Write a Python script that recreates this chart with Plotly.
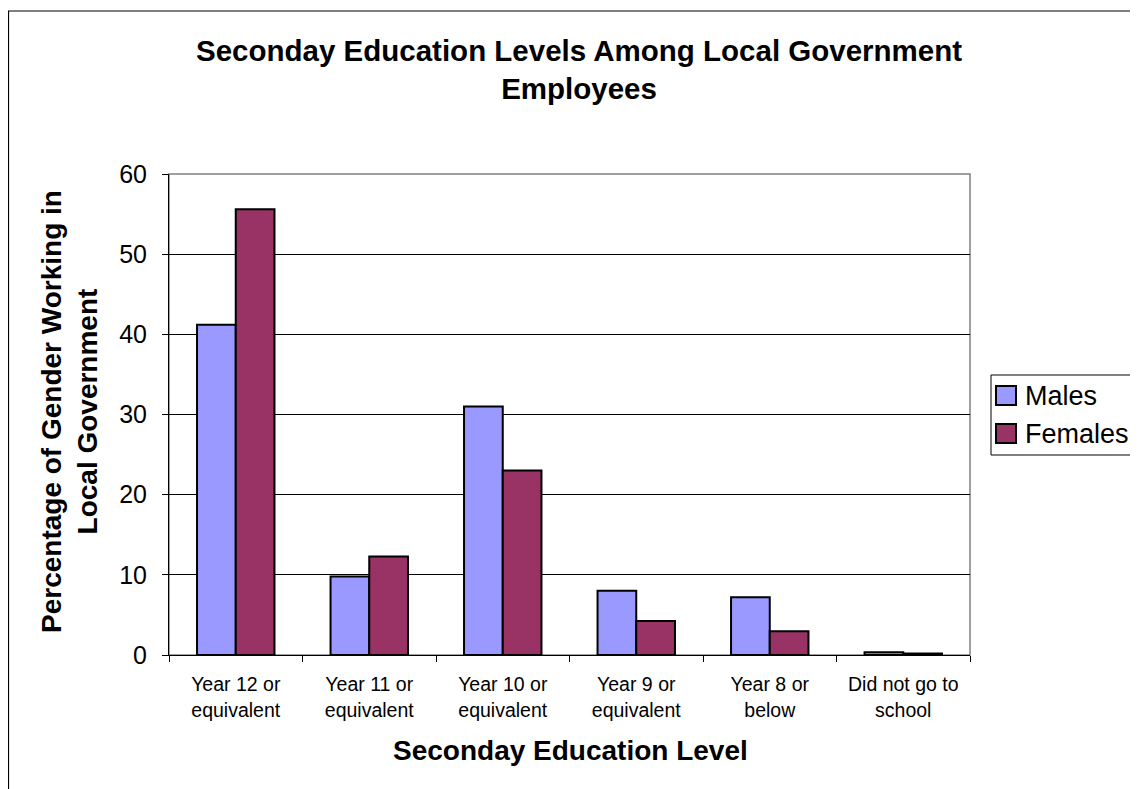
import plotly.graph_objects as go

categories = ["Year 12 or<br>equivalent", "Year 11 or<br>equivalent", "Year 10 or<br>equivalent",
              "Year 9 or<br>equivalent", "Year 8 or<br>below", "Did not go to<br>school"]
males = [41.2, 9.8, 31.0, 8.0, 7.2, 0.34]
females = [55.6, 12.3, 23.0, 4.25, 2.95, 0.2]
y_ticks = [0, 10, 20, 30, 40, 50, 60]
series_names = ["Males", "Females"]
series_colors = ["#9999FF", "#993366"]

# page body has an 8px default margin; work in page coords and convert
OFF = 8
W, H = 1138 - OFF, 789 - OFF
L, R, T, B = 169 - OFF, 970 - OFF, 174 - OFF, 655 - OFF
FONT = "Liberation Sans, Arial, sans-serif"

def px_x(x):
    return (x - OFF - L) / (R - L)

def px_y(y):
    return (B - (y - OFF)) / (B - T)

fig = go.Figure()
for name, vals, col in zip(series_names, [males, females], series_colors):
    fig.add_trace(go.Bar(x=categories, y=vals, name=name, showlegend=False,
                         marker=dict(color=col, line=dict(color="black", width=2))))

shapes = [
    dict(type="rect", xref="paper", yref="paper", x0=0, x1=1, y0=0, y1=1,
         line=dict(color="#808080", width=1.5), layer="below"),
    dict(type="rect", xref="paper", yref="paper",
         x0=px_x(8.5), x1=px_x(1150), y0=px_y(800), y1=px_y(11),
         line=dict(color="black", width=1.2), layer="below"),
    # legend box
    dict(type="rect", xref="paper", yref="paper",
         x0=px_x(991), x1=px_x(1136), y0=px_y(455), y1=px_y(375),
         line=dict(color="black", width=1), fillcolor="white"),
]
annotations = [
    dict(text="<b>Seconday Education Levels Among Local Government<br>Employees</b>",
         xref="paper", yref="paper", x=px_x(579), y=px_y(69),
         xanchor="center", yanchor="middle", showarrow=False,
         font=dict(size=29.5, family=FONT, color="black")),
    dict(text="<b>Percentage of Gender Working in<br>Local Government</b>",
         xref="paper", yref="paper", x=px_x(69), y=px_y(412),
         xanchor="center", yanchor="middle", textangle=-90, showarrow=False,
         font=dict(size=28, family=FONT, color="black")),
    dict(text="<b>Seconday Education Level</b>",
         xref="paper", yref="paper", x=px_x(570), y=px_y(750),
         xanchor="center", yanchor="middle", showarrow=False,
         font=dict(size=28, family=FONT, color="black")),
]
legend_rows = [396, 434]
for name, col, yc in zip(series_names, series_colors, legend_rows):
    shapes.append(dict(type="rect", xref="paper", yref="paper",
                       x0=px_x(996), x1=px_x(1016), y0=px_y(yc + 9), y1=px_y(yc - 10),
                       line=dict(color="black", width=2), fillcolor=col))
    annotations.append(dict(text=name, xref="paper", yref="paper",
                            x=px_x(1023), y=px_y(yc), xanchor="left", yanchor="middle",
                            showarrow=False,
                            font=dict(size=27, family=FONT, color="black")))

fig.update_layout(
    width=W, height=H,
    margin=dict(l=L, r=W - R, t=T, b=H - B, pad=0),
    paper_bgcolor="white", plot_bgcolor="white",
    font=dict(family=FONT, color="black"),
    barmode="group", bargap=0.42, bargroupgap=0,
    showlegend=False,
    xaxis=dict(showgrid=False, showline=True, linecolor="black", linewidth=1,
               ticks="outside", tickson="boundaries", ticklen=6, tickcolor="black",
               tickfont=dict(size=19.5, family=FONT, color="black"),
               ticklabelstandoff=12, fixedrange=True),
    yaxis=dict(range=[0, 60], tickvals=y_ticks, ticktext=[str(v) for v in y_ticks],
               showgrid=True, gridcolor="black", gridwidth=1,
               showline=True, linecolor="black", linewidth=1,
               ticks="outside", ticklen=6, tickcolor="black",
               tickfont=dict(size=25, family=FONT, color="black"),
               ticklabelstandoff=10, zeroline=False, fixedrange=True),
    shapes=shapes,
    annotations=annotations,
)

fig.write_html("out.html", config={"displayModeBar": False})
